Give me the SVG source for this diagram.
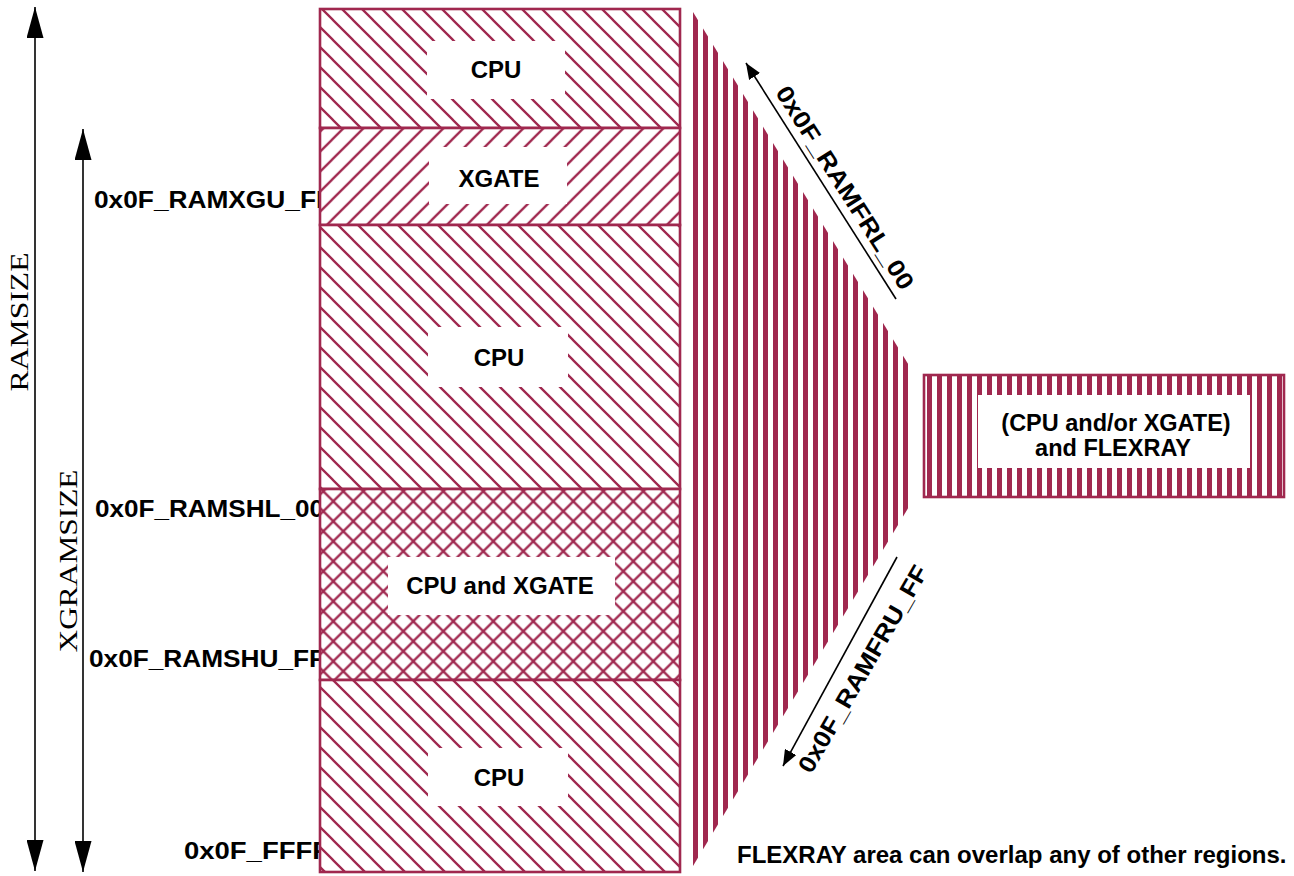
<svg xmlns="http://www.w3.org/2000/svg" width="1294" height="876" viewBox="0 0 1294 876">
<style>
.lbl{font-family:"Liberation Sans",Arial,sans-serif;font-weight:bold;font-size:24px;fill:#000}
.ser{font-family:"Liberation Serif","Times New Roman",serif;fill:#000}
.reg{stroke:#A0284F;stroke-width:2.6}
.wbox{fill:#fff;stroke:none}
.conn{stroke:#000;stroke-width:1.6;fill:none}
</style>
<defs>
<pattern id="bs" width="20" height="20" x="13" y="0" patternUnits="userSpaceOnUse">
<path d="M-2,-2 L22,22 M-2,18 L2,22 M18,-2 L22,2" stroke="#A0284F" stroke-width="2.3"/>
</pattern>
<pattern id="sl" width="20" height="20" x="11.7" y="0" patternUnits="userSpaceOnUse">
<path d="M-2,22 L22,-2 M-2,2 L2,-2 M18,22 L22,18" stroke="#A0284F" stroke-width="2.3"/>
</pattern>
<pattern id="cr" width="20" height="20" x="13.3" y="1.3" patternUnits="userSpaceOnUse">
<path d="M-2,-2 L22,22 M-2,18 L2,22 M18,-2 L22,2 M-2,22 L22,-2 M-2,2 L2,-2 M18,22 L22,18" stroke="#A0284F" stroke-width="2.3"/>
</pattern>
<pattern id="vs1" width="10" height="10" x="693" y="0" patternUnits="userSpaceOnUse">
<rect x="0" y="0" width="5" height="10" fill="#A0284F"/>
</pattern>
<pattern id="vs2" width="10" height="10" x="927" y="0" patternUnits="userSpaceOnUse">
<rect x="0" y="0" width="5" height="10" fill="#A0284F"/>
</pattern>
<marker id="ahBig" markerUnits="userSpaceOnUse" markerWidth="31" markerHeight="17" refX="31" refY="8.5" orient="auto-start-reverse">
<path d="M0,0 L31,8.5 L0,17 z" fill="#000"/>
</marker>
<marker id="ahSm" markerUnits="userSpaceOnUse" markerWidth="16" markerHeight="13" refX="16" refY="6.5" orient="auto">
<path d="M0,0 L16,6.5 L0,13 z" fill="#000"/>
</marker>
</defs>

<g id="labels-left">
<text class="lbl" x="94" y="208" textLength="238" lengthAdjust="spacingAndGlyphs">0x0F_RAMXGU_FF</text>
<text class="lbl" x="95" y="517" textLength="229" lengthAdjust="spacingAndGlyphs">0x0F_RAMSHL_00</text>
<text class="lbl" x="89" y="667" textLength="236" lengthAdjust="spacingAndGlyphs">0x0F_RAMSHU_FF</text>
<text class="lbl" x="184" y="859" textLength="145" lengthAdjust="spacingAndGlyphs">0x0F_FFFF</text>
</g>

<g id="ram-cpu-top">
<rect x="320" y="9" width="360" height="119" fill="#fff"/>
<rect x="320" y="9" width="360" height="119" fill="url(#bs)" class="reg"/>
<rect class="wbox" x="427" y="41" width="138" height="58"/>
<text class="lbl" x="496" y="78" text-anchor="middle">CPU</text>
</g>
<g id="ram-xgate">
<rect x="320" y="128" width="360" height="97" fill="#fff"/>
<rect x="320" y="128" width="360" height="97" fill="url(#sl)" class="reg"/>
<rect class="wbox" x="429" y="147" width="138" height="57"/>
<text class="lbl" x="499" y="187" text-anchor="middle">XGATE</text>
</g>
<g id="ram-cpu-mid">
<rect x="320" y="225" width="360" height="264" fill="#fff"/>
<rect x="320" y="225" width="360" height="264" fill="url(#bs)" class="reg"/>
<rect class="wbox" x="428" y="327" width="140" height="60"/>
<text class="lbl" x="499" y="366" text-anchor="middle">CPU</text>
</g>
<g id="ram-shared">
<rect x="320" y="489" width="360" height="191" fill="#fff"/>
<rect x="320" y="489" width="360" height="191" fill="url(#cr)" class="reg"/>
<rect class="wbox" x="388" y="557" width="227" height="58"/>
<text class="lbl" x="500" y="594" text-anchor="middle">CPU and XGATE</text>
</g>
<g id="ram-cpu-bot">
<rect x="320" y="680" width="360" height="192" fill="#fff"/>
<rect x="320" y="680" width="360" height="192" fill="url(#bs)" class="reg"/>
<rect class="wbox" x="428" y="748" width="140" height="58"/>
<text class="lbl" x="499" y="786" text-anchor="middle">CPU</text>
</g>

<g id="flexray-span">
<polygon points="693,12 913,372 913,500 693,866" fill="url(#vs1)"/>
</g>

<g id="flexray-box">
<rect x="924" y="375" width="360" height="122" fill="#fff"/>
<rect x="924" y="375" width="360" height="122" fill="url(#vs2)" class="reg"/>
<rect class="wbox" x="978" y="395" width="272" height="73"/>
<text class="lbl" x="1116" y="431" text-anchor="middle" style="font-size:23.5px">(CPU and/or XGATE)</text>
<text class="lbl" x="1113" y="456" text-anchor="middle" style="font-size:23.5px">and FLEXRAY</text>
</g>

<g id="connectors">
<line class="conn" x1="35" y1="7" x2="35" y2="871" marker-start="url(#ahBig)" marker-end="url(#ahBig)"/>
<line class="conn" x1="83" y1="129" x2="83" y2="872" marker-start="url(#ahBig)" marker-end="url(#ahBig)"/>
<line class="conn" x1="896" y1="299" x2="746" y2="63" marker-end="url(#ahSm)"/>
<line class="conn" x1="897" y1="557" x2="783" y2="766" marker-end="url(#ahSm)"/>
</g>

<g id="dimension-labels">
<text class="ser" font-size="26" text-anchor="middle" transform="translate(28,322) rotate(-90)" textLength="139" lengthAdjust="spacingAndGlyphs">RAMSIZE</text>
<text class="ser" font-size="25" text-anchor="middle" transform="translate(77,561) rotate(-90)" textLength="183" lengthAdjust="spacingAndGlyphs">XGRAMSIZE</text>
<text class="lbl" text-anchor="middle" transform="translate(838,192) rotate(57.56)" textLength="236" lengthAdjust="spacingAndGlyphs">0x0F_RAMFRL_00</text>
<text class="lbl" text-anchor="middle" transform="translate(870,673) rotate(-60)" textLength="235" lengthAdjust="spacingAndGlyphs">0x0F_RAMFRU_FF</text>
</g>

<g id="note">
<text class="lbl" x="737" y="863">FLEXRAY area can overlap any of other regions.</text>
</g>
</svg>
